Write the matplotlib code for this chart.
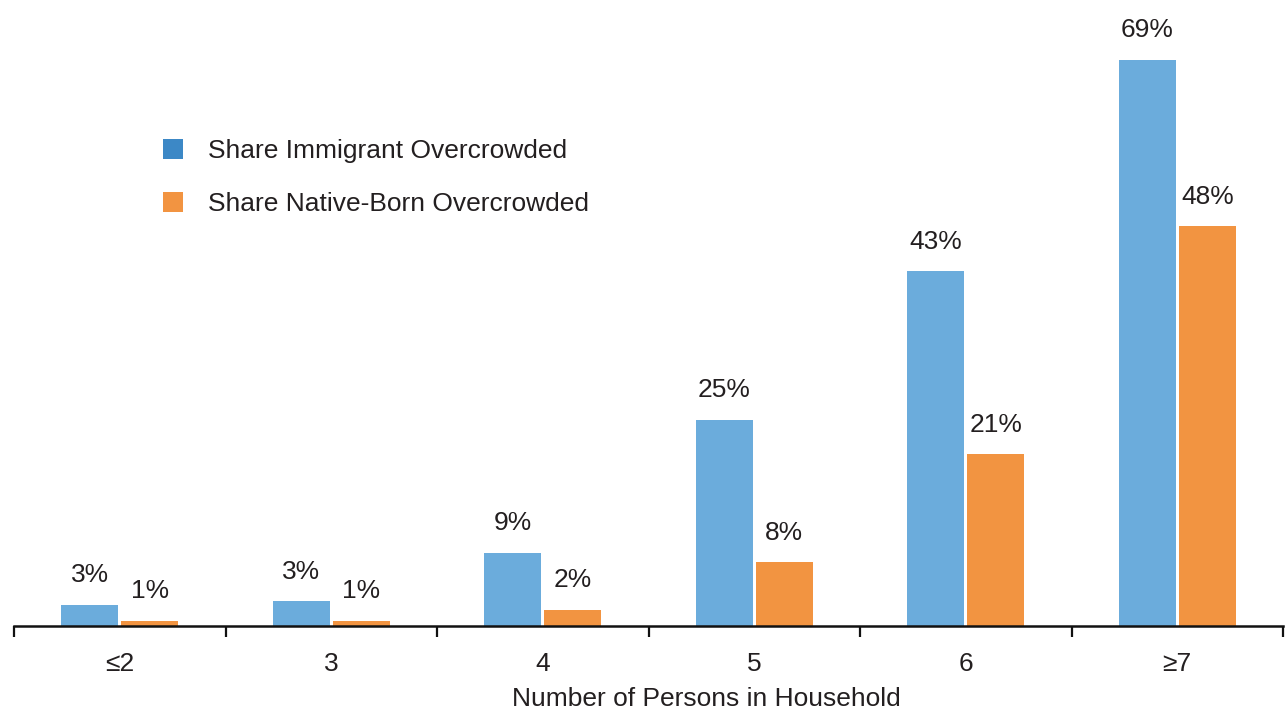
import matplotlib
matplotlib.use("Agg")
import matplotlib.pyplot as plt
from matplotlib.patches import Patch
import numpy as np

# Household size categories and overcrowding shares (%)
categories = ["\u22642", "3", "4", "5", "6", "\u22657"]
immigrant = [2.6, 3.0, 8.9, 25.0, 43.0, 68.6]
native = [0.65, 0.65, 2.0, 7.7, 20.8, 48.45]
series_names = ["Share Immigrant Overcrowded", "Share Native-Born Overcrowded"]
x_label = "Number of Persons in Household"

bar_colors = ["#6BACDC", "#F29441"]
legend_colors = ["#3C88C6", "#F29441"]
text_color = "#231F20"
fs = 19

plt.rcParams["font.family"] = ["Liberation Sans", "DejaVu Sans"]
plt.rcParams["font.size"] = fs

fig = plt.figure(figsize=(12.86, 7.11), dpi=100)
ax = fig.add_axes([14 / 1286, 1 - 626 / 711, (1283 - 14) / 1286, 626 / 711])

x = np.arange(len(categories))
width = 0.27
offset = 0.142
bars_a = ax.bar(x - offset, immigrant, width, color=bar_colors[0], linewidth=0)
bars_b = ax.bar(x + offset, native, width, color=bar_colors[1], linewidth=0)

for bars, vals in ((bars_a, immigrant), (bars_b, native)):
    for b, v in zip(bars, vals):
        ax.annotate(f"{v:.0f}%", (b.get_x() + b.get_width() / 2, v),
                    xytext=(0, 21.3), textcoords="offset points",
                    ha="center", va="center", color=text_color, fontsize=fs)

ax.set_xlim(-0.5, len(categories) - 0.5)
ax.set_ylim(0, 626 / 8.25)

# Boundary ticks between groups, labels at group centres
ax.set_xticks(np.arange(len(categories) + 1) - 0.5)
ax.set_xticklabels([])
ax.set_xticks(x, minor=True)
ax.set_xticklabels(categories, minor=True, color=text_color, fontsize=fs)
ax.tick_params(axis="x", which="major", direction="out", length=8, width=1.6,
               color="#111111")
ax.tick_params(axis="x", which="minor", length=0, pad=18.5)
ax.set_yticks([])

for side in ("top", "right", "left"):
    ax.spines[side].set_visible(False)
ax.spines["bottom"].set_linewidth(1.8)
ax.spines["bottom"].set_color("#111111")
ax.patch.set_alpha(0)

ax.set_xlabel(x_label, color=text_color, fontsize=fs)
ax.xaxis.set_label_coords((706 - 14) / 1269, -0.097)

handles = [Patch(facecolor=c, edgecolor="none") for c in legend_colors]
leg = fig.legend(handles, series_names, loc="upper left",
                 bbox_to_anchor=(163 / 1286, 1 - 139 / 711),
                 frameon=False, fontsize=fs, handlelength=0.76, handleheight=0.76,
                 handletextpad=0.95, labelspacing=1.11, borderaxespad=0,
                 borderpad=0)
for t in leg.get_texts():
    t.set_color(text_color)

fig.savefig("out.png", dpi=100)
